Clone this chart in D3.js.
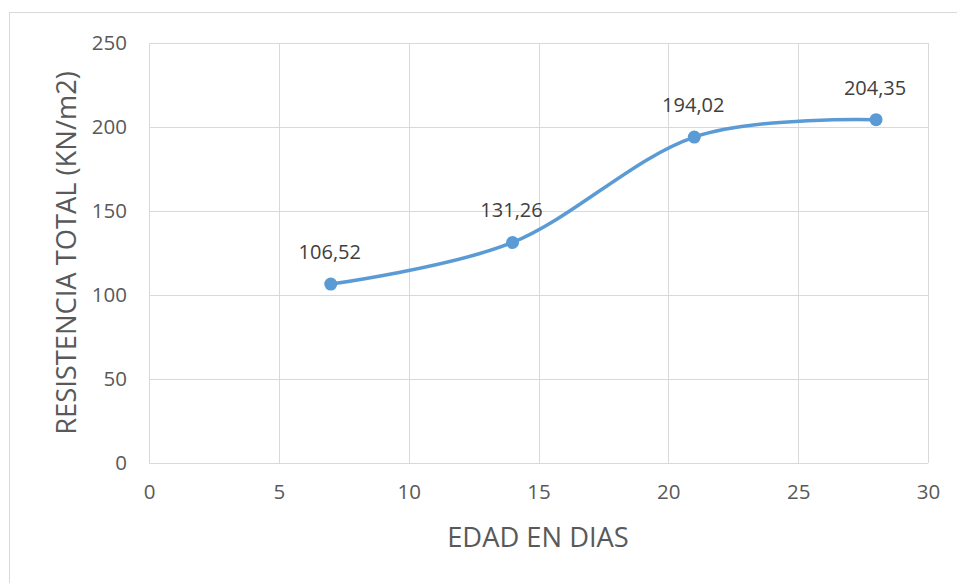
<!DOCTYPE html>
<html><head><meta charset="utf-8">
<script src="https://cdn.jsdelivr.net/npm/d3@7"></script>
<style>body{margin:0;background:#fff}svg{display:block}</style>
</head><body><svg id="c" width="957" height="583"></svg>
<script>
const days = [7, 14, 21, 28];
const resistance = [106.52, 131.26, 194.02, 204.35];
const labels = ["106,52", "131,26", "194,02", "204,35"];
const xTicks = [0, 5, 10, 15, 20, 25, 30];
const yTicks = [0, 50, 100, 150, 200, 250];

const svg = d3.select("#c");
const font = "'Open Sans', sans-serif";
svg.append("rect").attr("x", 9.5).attr("y", 12.5).attr("width", 960).attr("height", 600)
  .attr("fill", "#fff").attr("stroke", "#d9d9d9");

const L = 149, R = 928, T = 43, B = 463;
const x = d3.scaleLinear().domain([0, 30]).range([L, R]);
const y = d3.scaleLinear().domain([0, 250]).range([B, T]);

const g = svg.append("g");
g.selectAll(".vg").data(xTicks).join("line")
  .attr("x1", d => Math.round(x(d)) + 0.5).attr("x2", d => Math.round(x(d)) + 0.5)
  .attr("y1", T).attr("y2", B).attr("stroke", "#d9d9d9");
g.selectAll(".hg").data(yTicks).join("line")
  .attr("y1", d => Math.round(y(d)) + 0.5).attr("y2", d => Math.round(y(d)) + 0.5)
  .attr("x1", L).attr("x2", R).attr("stroke", "#d9d9d9");

const xAxis = svg.append("g").attr("transform", `translate(0,${B})`)
  .call(d3.axisBottom(x).tickValues(xTicks).tickSize(0).tickPadding(21));
const yAxis = svg.append("g").attr("transform", `translate(${L},0)`)
  .call(d3.axisLeft(y).tickValues(yTicks).tickSize(0).tickPadding(22));
[xAxis, yAxis].forEach(a => {
  a.select(".domain").remove();
  a.selectAll("text").attr("fill", "#595959").style("font-family", font).style("font-size", "20.5px");
});
xAxis.selectAll("text").attr("dy", "0.75em");

const line = d3.line().x((d, i) => x(days[i])).y(d => y(d)).curve(d3.curveCardinal.tension(0));
svg.append("path").datum(resistance).attr("d", line).attr("fill", "none")
  .attr("stroke", "#5b9bd5").attr("stroke-width", 3.5).attr("stroke-linecap", "round");
svg.selectAll(".pt").data(resistance).join("circle")
  .attr("cx", (d, i) => x(days[i])).attr("cy", d => y(d)).attr("r", 6.5).attr("fill", "#5b9bd5");
svg.selectAll(".lb").data(resistance).join("text")
  .attr("x", (d, i) => x(days[i]) - 1).attr("y", d => y(d) - 25)
  .attr("text-anchor", "middle").attr("fill", "#404040")
  .style("font-family", font).style("font-size", "20px").text((d, i) => labels[i]);

svg.append("text").attr("x", 538).attr("y", 547).attr("text-anchor", "middle")
  .attr("fill", "#595959").style("font-family", font).style("font-size", "27.3px").text("EDAD EN DIAS");
svg.append("text").attr("transform", "translate(76,253) rotate(-90)").attr("text-anchor", "middle")
  .attr("fill", "#595959").style("font-family", font).style("font-size", "27.3px").text("RESISTENCIA TOTAL (KN/m2)");
</script></body></html>
